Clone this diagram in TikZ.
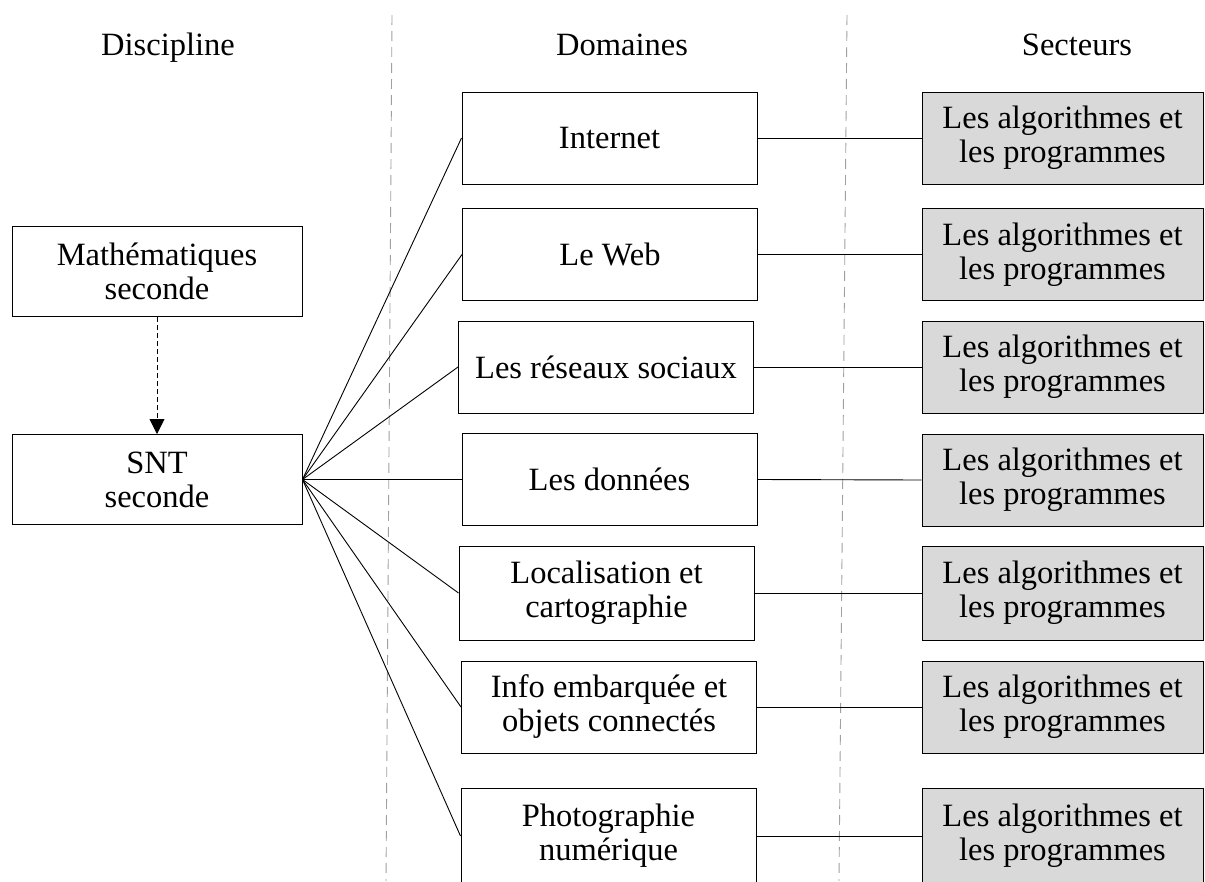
\documentclass[tikz,border=0pt]{standalone}
\usepackage{fontspec}
\setmainfont{Liberation Serif}
\usetikzlibrary{arrows.meta}
\definecolor{secgray}{HTML}{D9D9D9}
\definecolor{divgray}{HTML}{A0A0A0}
\begin{document}
\begin{tikzpicture}[x=1pt,y=-1pt,
  txt/.style={font=\fontsize{32.5}{34}\selectfont},
  box/.style={txt, draw, line width=1pt, inner sep=0pt, align=center},
  disc/.style={box, minimum width=290pt, minimum height=90pt},
  dom/.style={box, minimum width=295pt, minimum height=92pt},
  sec/.style={box, fill=secgray, minimum width=281pt, minimum height=92pt},
  head/.style={txt, anchor=base, inner sep=0pt},
  conn/.style={draw, line width=0.9pt},
  divider/.style={draw=divgray, line width=0.9pt, dash pattern=on 10pt off 6pt}]
\clip (0,0) rectangle (1205,881);
\fill[white] (0,0) rectangle (1205,881);
% dividers
\draw[divider] (392,15) -- (386,881);
\draw[divider] (847,15) -- (839,881);
% headers
\node[head] (hdisc) at (168,55) {Discipline};
\node[head] (hdom) at (622,55) {Domaines};
\node[head] (hsec) at (1077,55) {Secteurs};
% discipline
\node[disc] (math) at (157,271.5) {Mathématiques\\seconde};
\node[disc] (snt) at (157,479.5) {SNT\\seconde};
\draw[conn, dash pattern=on 5pt off 3pt, -{Triangle[width=15pt,length=15pt]}] (math.south) -- (snt.north);
% domaines
\node[dom] (d1) at (609.5,138) {Internet};
\node[dom] (d2) at (610,254.5) {Le Web};
\node[dom] (d3) at (606,367) {Les réseaux sociaux};
\node[dom] (d4) at (609.5,479.5) {Les données};
\node[dom, minimum height=94pt] (d5) at (606.5,593) {Localisation et\\cartographie};
\node[dom] (d6) at (609,707) {Info embarquée et\\objets connectés};
\node[dom, minimum height=96pt] (d7) at (608.5,836) {Photographie\\numérique};
% secteurs
\node[sec] (s1) at (1062.5,138) {Les algorithmes et\\les programmes};
\node[sec] (s2) at (1062.5,254.5) {Les algorithmes et\\les programmes};
\node[sec] (s3) at (1062.5,367) {Les algorithmes et\\les programmes};
\node[sec] (s4) at (1062.5,480) {Les algorithmes et\\les programmes};
\node[sec, minimum height=94pt] (s5) at (1062.5,593) {Les algorithmes et\\les programmes};
\node[sec] (s6) at (1062.5,707) {Les algorithmes et\\les programmes};
\node[sec, minimum height=96pt] (s7) at (1062.5,836) {Les algorithmes et\\les programmes};
% connectors
\foreach \i in {1,...,7} {
  \draw[conn] (snt.east) -- (d\i.west);
  \draw[conn] (d\i.east) -- (s\i.west);
}
\end{tikzpicture}
\end{document}
